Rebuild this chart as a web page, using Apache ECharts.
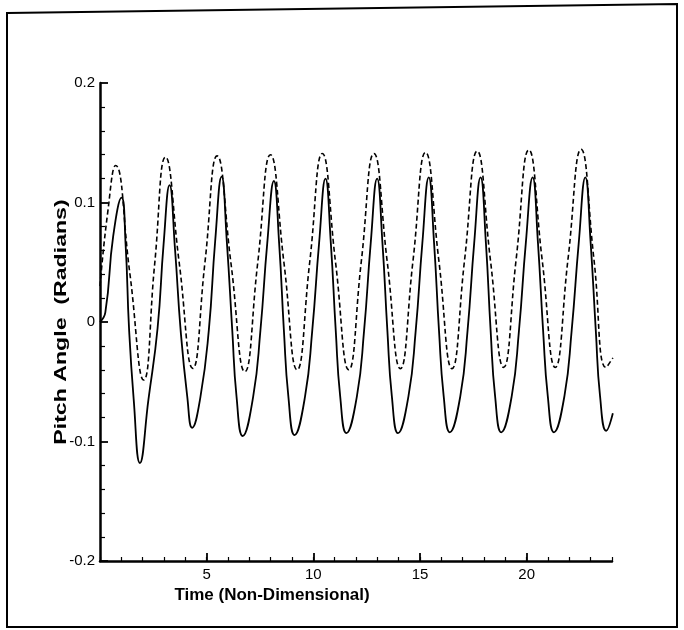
<!DOCTYPE html>
<html><head><meta charset="utf-8">
<script src="https://cdn.jsdelivr.net/npm/echarts@6/dist/echarts.min.js"></script>
<style>html,body{margin:0;padding:0;background:#fff}#chart{width:684px;height:630px}</style>
</head><body><div id="chart"></div>
<script>
// Solid curve
const timeSolid = [0, 0.25, 0.62, 1.01, 1.20, 1.36, 1.58, 1.87, 2.27, 2.70, 2.98, 3.26, 3.52, 3.78, 4.09, 4.32, 4.71, 5.10, 5.40, 5.70, 5.95, 6.20, 6.40, 6.69, 7.18, 7.52, 7.84, 8.15, 8.40, 8.62, 8.83, 9.12, 9.61, 9.95, 10.27, 10.57, 10.82, 11.05, 11.26, 11.55, 12.04, 12.38, 12.69, 12.99, 13.24, 13.47, 13.68, 13.97, 14.46, 14.80, 15.11, 15.41, 15.66, 15.89, 16.11, 16.40, 16.89, 17.23, 17.54, 17.84, 18.09, 18.31, 18.52, 18.81, 19.30, 19.64, 19.96, 20.28, 20.53, 20.77, 20.99, 21.28, 21.77, 22.11, 22.44, 22.75, 23.00, 23.24, 23.44, 23.73, 24.04];
const pitchSolid = [0, 0.008, 0.072, 0.104, 0.065, -0.005, -0.065, -0.118, -0.065, -0.005, 0.065, 0.1146, 0.060, -0.007, -0.0625, -0.0885, -0.0625, -0.007, 0.068, 0.1216, 0.066, -0.007, -0.0625, -0.0954, -0.0625, -0.007, 0.066, 0.118, 0.065, -0.007, -0.0625, -0.0946, -0.0625, -0.007, 0.066, 0.120, 0.066, -0.007, -0.0625, -0.093, -0.0625, -0.007, 0.066, 0.120, 0.066, -0.007, -0.062, -0.093, -0.062, -0.007, 0.066, 0.121, 0.066, -0.007, -0.062, -0.0923, -0.062, -0.007, 0.066, 0.121, 0.066, -0.007, -0.062, -0.0923, -0.062, -0.007, 0.066, 0.121, 0.066, -0.007, -0.062, -0.0923, -0.062, -0.007, 0.066, 0.121, 0.066, -0.007, -0.062, -0.091, -0.0764];
// Dashed curve
const timeDashed = [0, 0.35, 0.73, 1.39, 2.05, 2.56, 3.07, 3.71, 4.35, 4.92, 5.49, 6.14, 6.79, 7.39, 7.99, 8.62, 9.24, 9.83, 10.42, 11.04, 11.66, 12.25, 12.84, 13.46, 14.08, 14.67, 15.26, 15.88, 16.50, 17.09, 17.68, 18.30, 18.92, 19.51, 20.10, 20.72, 21.34, 21.94, 22.55, 23.15, 23.72, 24.04];
const pitchDashed = [0.03, 0.09, 0.131, 0.042, -0.0485, 0.048, 0.138, 0.050, -0.0388, 0.050, 0.139, 0.049, -0.0416, 0.049, 0.140, 0.050, -0.040, 0.050, 0.141, 0.050, -0.040, 0.051, 0.141, 0.051, -0.039, 0.051, 0.142, 0.052, -0.039, 0.052, 0.143, 0.052, -0.038, 0.053, 0.144, 0.053, -0.038, 0.053, 0.1445, 0.053, -0.038, -0.030];
const xMajorTicks = [5, 10, 15, 20];
const yTickLabels = ['-0.2', '-0.1', '0', '0.1', '0.2'];
const xTitle = 'Time (Non-Dimensional)';
const yTitle = 'Pitch Angle  (Radians)';

const zip = (a, b) => a.map((t, i) => [t, b[i]]);
const FONT = 'Liberation Sans, Arial, Helvetica, sans-serif';

const chart = echarts.init(document.getElementById('chart'), null, { renderer: 'canvas' });
chart.setOption({
  animation: false,
  backgroundColor: '#ffffff',
  grid: { left: 100, right: 72, top: 83, bottom: 69, containLabel: false },
  graphic: [{
    type: 'polygon', silent: true,
    shape: { points: [[7, 13], [677, 4], [677, 627], [7, 627]] },
    style: { fill: 'none', stroke: '#000', lineWidth: 2 }
  }, {
    type: 'text', silent: true,
    x: 61, y: 322, rotation: Math.PI / 2, scaleX: 1.36,
    style: { text: yTitle, font: 'bold 17px ' + FONT, fill: '#000', align: 'center', verticalAlign: 'middle' }
  }],
  xAxis: [{
    type: 'value', min: 0, max: 24, interval: 1,
    axisLine: { show: false, onZero: false },
    axisTick: { show: true, inside: true, length: 4, lineStyle: { color: '#000', width: 1.2 } },
    axisLabel: { show: false },
    splitLine: { show: false }
  }, {
    type: 'value', min: 0, max: 24, interval: 5, position: 'bottom',
    name: xTitle, nameLocation: 'middle', nameGap: 22,
    nameTextStyle: { fontFamily: FONT, fontSize: 17, fontWeight: 'bold', color: '#000', padding: [0, 168, 0, 0] },
    axisLine: { show: true, onZero: false, lineStyle: { color: '#000', width: 2.5 } },
    axisTick: { show: true, inside: true, length: 8, customValues: xMajorTicks, lineStyle: { color: '#000', width: 1.8 } },
    axisLabel: { show: true, margin: 6, customValues: xMajorTicks, fontFamily: FONT, fontSize: 15, color: '#000' },
    splitLine: { show: false }
  }],
  yAxis: {
    type: 'value', min: -0.2, max: 0.2, interval: 0.1,
    axisLine: { show: true, onZero: false, lineStyle: { color: '#000', width: 2.5 } },
    axisTick: { show: true, inside: true, length: 8, lineStyle: { color: '#000', width: 1.8 } },
    minorTick: { show: true, splitNumber: 5, length: 5, lineStyle: { color: '#000', width: 1.2 } },
    axisLabel: {
      margin: 5, fontFamily: FONT, fontSize: 15, color: '#000',
      formatter: v => yTickLabels[Math.round((v + 0.2) * 10)]
    },
    splitLine: { show: false }
  },
  series: [{
    type: 'line', xAxisIndex: 0, data: zip(timeSolid, pitchSolid), smooth: 0.5,
    symbol: 'none', lineStyle: { color: '#000', width: 1.8, type: 'solid' }
  }, {
    type: 'line', xAxisIndex: 0, data: zip(timeDashed, pitchDashed), smooth: 0.5,
    symbol: 'none', lineStyle: { color: '#000', width: 1.6, type: [5, 3] }
  }]
});
</script></body></html>
